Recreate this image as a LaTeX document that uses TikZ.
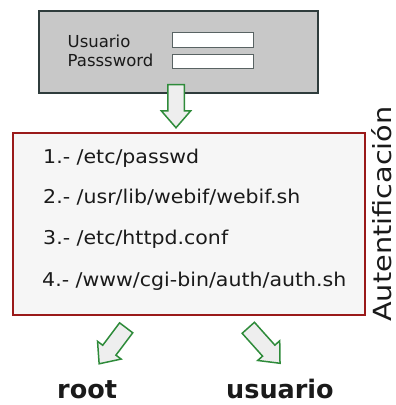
\documentclass[tikz,border=0pt]{standalone}
\usepackage{fontspec}
\setmainfont{DejaVu Sans}
\newfontfamily\itemfont[FakeStretch=1.08]{DejaVu Sans}
\newfontfamily\sidefont[FakeStretch=1.15]{DejaVu Sans}
\usetikzlibrary{shapes.arrows}
\definecolor{loginfill}{HTML}{C8C8C8}
\definecolor{loginborder}{HTML}{2F3C3C}
\definecolor{authfill}{HTML}{F6F6F6}
\definecolor{authborder}{HTML}{9A1A1A}
\definecolor{arrowgreen}{HTML}{2E8B3A}
\definecolor{arrowfill}{HTML}{EEEEEE}
\definecolor{txt}{HTML}{1A1A1A}
\tikzset{
  loginbox/.style={draw=loginborder, fill=loginfill, line width=2pt, inner sep=0pt},
  authbox/.style={draw=authborder, fill=authfill, line width=1.8pt, inner sep=0pt},
  field/.style={draw=loginborder!80, fill=white, line width=1pt, inner sep=0pt, minimum width=81pt},
  lbl/.style={font=\fontsize{16.5}{18}\selectfont, text=txt, inner sep=0pt, anchor=base west},
  itemtxt/.style={font=\itemfont\fontsize{19}{22}\selectfont, text=txt, inner sep=0pt, anchor=base west},
  bigtxt/.style={font=\bfseries\fontsize{25.5}{28}\selectfont, text=txt, inner sep=0pt, anchor=base west, text depth=0pt},
  sidetxt/.style={font=\sidefont\fontsize{25}{28}\selectfont, text=txt, inner sep=0pt, anchor=base west, text depth=0pt, rotate=90},
  blockarrow/.style={single arrow, draw=arrowgreen, fill=arrowfill, line width=1.5pt,
    inner xsep=0pt, inner ysep=7.5pt, single arrow head extend=6.5pt,
    single arrow tip angle=82},
}
\begin{document}
\begin{tikzpicture}[x=1pt,y=-1pt]
\useasboundingbox (0,0) rectangle (396,405);
% login box
\node[loginbox, minimum width=279pt, minimum height=82pt] (login) at (178.5,52) {};
\node[lbl] (user) at (67.5,47) {Usuario};
\node[lbl] (pass) at (67.5,66) {Passsword};
\node[field, minimum height=15pt] (f1) at (212.5,39.5) {};
\node[field, minimum height=14pt] (f2) at (212.5,61) {};
% authentication box
\node[authbox, minimum width=352pt, minimum height=182pt] (auth) at (189,224) {};
\node[blockarrow, minimum height=43pt, rotate=-90] (down) at (176,101.5) {};
\node[itemtxt] (i1) at (43,163) {1.- /etc/passwd};
\node[itemtxt] (i2) at (43,203) {2.- /usr/lib/webif/webif.sh};
\node[itemtxt] (i3) at (43,244) {3.- /etc/httpd.conf};
\node[itemtxt] (i4) at (42,286) {4.- /www/cgi-bin/auth/auth.sh};
\node[sidetxt] (side) at (391,322) {Autentificación};
% outputs
\node[blockarrow, minimum height=45pt, rotate=-126.9] (aroot) at (115.5,342) {};
\node[blockarrow, minimum height=47.6pt, rotate=-48.2] (auser) at (261,342) {};
\node[bigtxt] (root) at (57,398.5) {root};
\node[bigtxt] (usuario) at (226,398.5) {usuario};
\end{tikzpicture}
\end{document}
